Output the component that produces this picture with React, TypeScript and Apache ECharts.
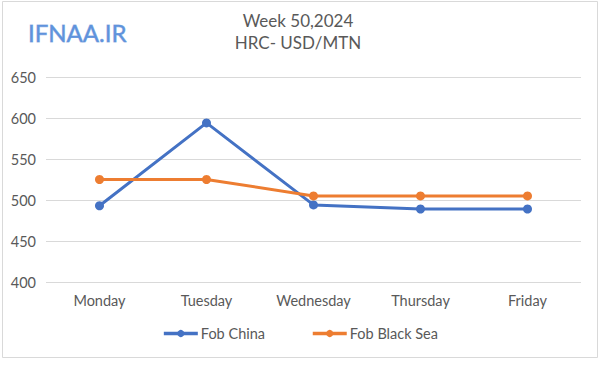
import React, { useEffect, useRef } from "react";
import * as echarts from "echarts";

const categories = ["Monday", "Tuesday", "Wednesday", "Thursday", "Friday"];
const fobChina = [493, 594, 494, 489, 489];
const fobBlackSea = [525, 525, 505, 505, 505];
const titleLines = ["Week 50,2024", "HRC- USD/MTN"];
const logoText = "IFNAA.IR";

export default function App() {
  const ref = useRef<HTMLDivElement>(null);
  useEffect(() => {
    document.body.style.margin = "0";
    if (!ref.current) return;
    const chart = echarts.init(ref.current, null, { renderer: "svg" });
    const font = "Lato, 'Open Sans', sans-serif";
    chart.setOption({
      animation: false,
      backgroundColor: "#ffffff",
      textStyle: { fontFamily: font },
      graphic: [
        {
          type: "rect",
          shape: { x: 2.5, y: 1.5, width: 595, height: 356 },
          style: { fill: "none", stroke: "#d9d9d9", lineWidth: 1 },
          silent: true,
        },
        {
          type: "text",
          x: 298,
          y: 20,
          style: {
            text: titleLines[0],
            fill: "#595959",
            font: `17px ${font}`,
            align: "center",
            verticalAlign: "middle",
          },
        },
        {
          type: "text",
          x: 298,
          y: 42,
          style: {
            text: titleLines[1],
            fill: "#595959",
            font: `17px ${font}`,
            align: "center",
            verticalAlign: "middle",
          },
        },
        {
          type: "text",
          x: 28,
          y: 32,
          style: {
            text: logoText,
            fill: "#5f93dc",
            font: `24px ${font}`,
            align: "left",
            verticalAlign: "middle",
            stroke: "#9fbbe6",
            lineWidth: 0.8,
            shadowColor: "rgba(40,40,90,0.55)",
            shadowBlur: 2,
            shadowOffsetX: 1,
            shadowOffsetY: 1.5,
          },
        },
      ],
      grid: { left: 46, right: 19, top: 77, bottom: 92, containLabel: false },
      legend: {
        bottom: 28,
        left: "center",
        itemGap: 46,
        itemWidth: 34,
        itemHeight: 9,
        lineStyle: { width: 3.5 },
        textStyle: { color: "#595959", fontSize: 14.5, fontFamily: font, padding: [0, 0, 0, -2] },
        data: ["Fob China", "Fob Black Sea"],
      },
      xAxis: {
        type: "category",
        data: categories,
        boundaryGap: true,
        axisLine: { show: false },
        axisTick: { show: false },
        axisLabel: { color: "#595959", fontSize: 14.5, margin: 11 },
      },
      yAxis: {
        type: "value",
        min: 400,
        max: 650,
        interval: 50,
        axisLine: { show: false },
        axisTick: { show: false },
        axisLabel: { color: "#595959", fontSize: 14.5, margin: 10 },
        splitLine: { lineStyle: { color: "#d9d9d9", width: 1 } },
      },
      series: [
        {
          name: "Fob China",
          type: "line",
          data: fobChina,
          color: "#4472c4",
          symbol: "circle",
          symbolSize: 9,
          lineStyle: { width: 3, color: "#4472c4" },
          itemStyle: { color: "#4472c4" },
        },
        {
          name: "Fob Black Sea",
          type: "line",
          data: fobBlackSea,
          color: "#ed7d31",
          symbol: "circle",
          symbolSize: 9,
          lineStyle: { width: 3, color: "#ed7d31" },
          itemStyle: { color: "#ed7d31" },
        },
      ],
    });
    return () => chart.dispose();
  }, []);
  return <div ref={ref} style={{ width: 600, height: 374 }} />;
}
